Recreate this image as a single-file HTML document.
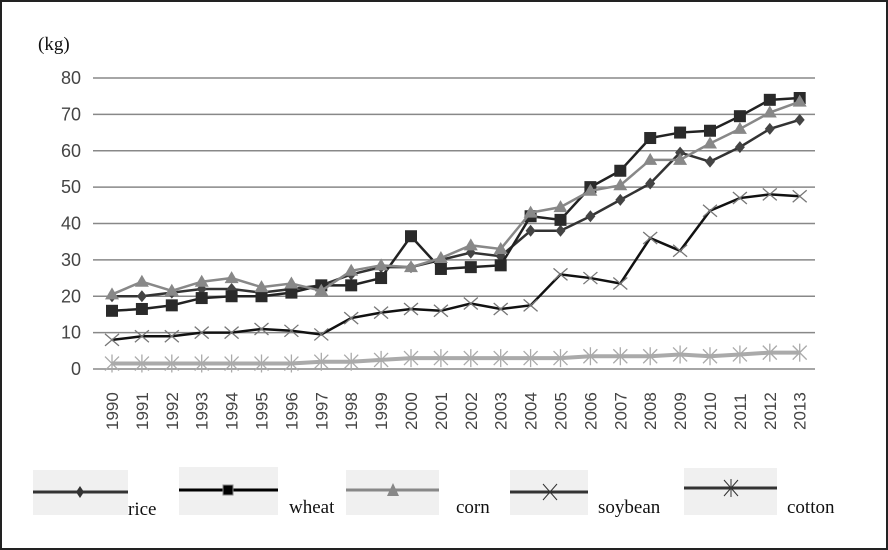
<!DOCTYPE html>
<html><head><meta charset="utf-8"><style>
body{margin:0;background:#fff}
svg{display:block}
</style></head><body>
<svg id="c" width="888" height="550" xmlns="http://www.w3.org/2000/svg" font-family="Liberation Sans, sans-serif">
<rect x="1" y="1" width="886" height="548" fill="#fff" stroke="#222" stroke-width="2"/>
<text x="38" y="50" font-family="Liberation Serif, serif" font-size="19" fill="#111">(kg)</text>
<g id="g"></g>
<g id="legend" font-family="Liberation Serif, serif" font-size="19" fill="#111">
<rect x="33" y="470" width="95" height="45" fill="#f0f0f0"/>
<line x1="33" y1="492" x2="128" y2="492" stroke="#333" stroke-width="3"/>
<path d="M80,486 L84,492 L80,498 L76,492Z" fill="#333"/>
<text x="128" y="515">rice</text>
<rect x="179" y="467" width="99" height="48" fill="#f0f0f0"/>
<line x1="179" y1="490" x2="278" y2="490" stroke="#000" stroke-width="3"/>
<rect x="223" y="485" width="10" height="10" fill="#000" stroke="#888" stroke-width="1"/>
<text x="289" y="513">wheat</text>
<rect x="208" y="0" width="0" height="0"/>
<rect x="346" y="470" width="93" height="45" fill="#f0f0f0"/>
<line x1="346" y1="490" x2="439" y2="490" stroke="#888" stroke-width="3"/>
<path d="M393,483 L399,496 L387,496Z" fill="#888"/>
<text x="456" y="513">corn</text>
<rect x="510" y="470" width="78" height="45" fill="#f0f0f0"/>
<line x1="510" y1="492" x2="588" y2="492" stroke="#333" stroke-width="3"/>
<path d="M543,484 L557,500 M557,484 L543,500" stroke="#333" stroke-width="1"/>
<text x="598" y="513">soybean</text>
<rect x="684" y="468" width="93" height="47" fill="#f0f0f0"/>
<line x1="684" y1="488" x2="777" y2="488" stroke="#333" stroke-width="3"/>
<path d="M724,480 L738,496 M738,480 L724,496 M731,479 L731,497" stroke="#333" stroke-width="1"/>
<text x="787" y="513">cotton</text>
</g>
</svg>
<script>
const g=document.getElementById('g');
const X=i=>112+i*29.9, Y=v=>369-v*3.6375;
let s='';
for(let v=0;v<=80;v+=10){const y=Y(v);s+=`<line x1="93" y1="${y}" x2="815" y2="${y}" stroke="#888" stroke-width="1.5"/>`;
s+=`<text x="81" y="${y+6}" text-anchor="end" font-size="18" fill="#444">${v}</text>`;}
for(let i=0;i<24;i++){s+=`<text transform="translate(${X(i)+6},430) rotate(-90)" font-size="17" fill="#444">${1990+i}</text>`;}
const rice=[20,20,21,22,22,21,22,23,26,28,28,30,32,31,38,38,42,46.5,51,59.5,57,61,66,68.5];
const wheat=[16,16.5,17.5,19.5,20,20,21,23,23,25,36.5,27.5,28,28.5,42,41,50,54.5,63.5,65,65.5,69.5,74,74.5];
const corn=[20.5,24,21.5,24,25,22.5,23.5,21.5,27,28.5,28,30.5,34,33,43,44.5,49,50.5,57.5,57.5,62,66,70.5,73.5];
const soy=[8,9,9,10,10,11,10.5,9.5,14,15.5,16.5,16,18,16.5,17.5,26,25,23.5,36,32.5,43.5,47,48,47.5];
const cot=[1.5,1.5,1.5,1.5,1.5,1.5,1.5,2,2,2.5,3,3,3,3,3,3,3.5,3.5,3.5,4,3.5,4,4.5,4.5];
const pts=a=>a.map((v,i)=>X(i)+','+Y(v)).join(' ');
// cotton
s+=`<polyline points="${pts(cot)}" fill="none" stroke="#aaa" stroke-width="4"/>`;
cot.forEach((v,i)=>{const x=X(i),y=Y(v);s+=`<path d="M${x-7},${y-7}L${x+7},${y+7}M${x+7},${y-7}L${x-7},${y+7}M${x},${y-9}L${x},${y+9}" stroke="#aaa" stroke-width="1.3"/>`;});
// soybean
s+=`<polyline points="${pts(soy)}" fill="none" stroke="#111" stroke-width="2.5"/>`;
soy.forEach((v,i)=>{const x=X(i),y=Y(v);s+=`<path d="M${x-7},${y-6}L${x+7},${y+6}M${x+7},${y-6}L${x-7},${y+6}" stroke="#777" stroke-width="1.3"/>`;});
// rice
s+=`<polyline points="${pts(rice)}" fill="none" stroke="#333" stroke-width="2.5"/>`;
rice.forEach((v,i)=>{const x=X(i),y=Y(v);s+=`<path d="M${x},${y-6}L${x+5},${y}L${x},${y+6}L${x-5},${y}Z" fill="#444"/>`;});
// wheat
s+=`<polyline points="${pts(wheat)}" fill="none" stroke="#222" stroke-width="2.5"/>`;
wheat.forEach((v,i)=>{const x=X(i),y=Y(v);s+=`<rect x="${x-6}" y="${y-6}" width="12" height="12" fill="#2a2a2a"/>`;});
// corn
s+=`<polyline points="${pts(corn)}" fill="none" stroke="#888" stroke-width="2.5"/>`;
corn.forEach((v,i)=>{const x=X(i),y=Y(v);s+=`<path d="M${x},${y-7}L${x+7},${y+5}L${x-7},${y+5}Z" fill="#888"/>`;});
g.innerHTML=s;
</script>
</body></html>
